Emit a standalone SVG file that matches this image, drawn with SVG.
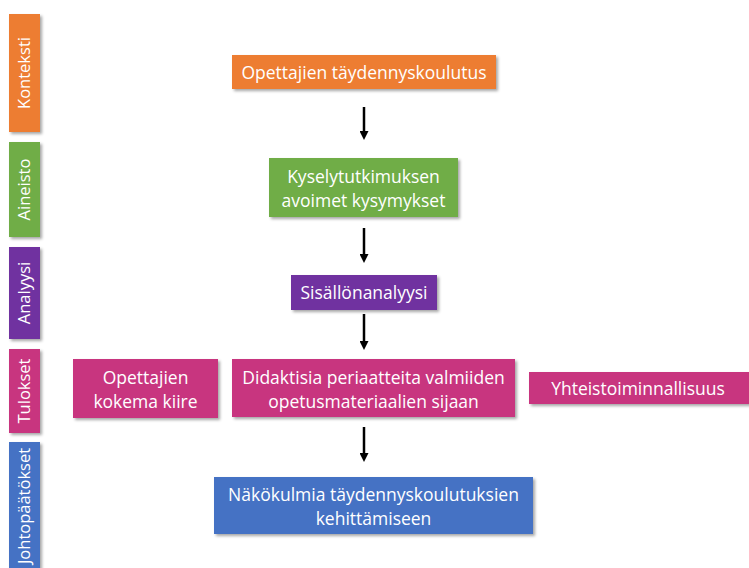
<svg xmlns="http://www.w3.org/2000/svg" width="749" height="568" viewBox="0 0 749 568">
<style>
  .t { font-family: "Open Sans", "Noto Sans", "Liberation Sans", sans-serif; fill: #ffffff; text-anchor: middle; }
  .m { font-size: 17.5px; }
  .s { font-size: 16.5px; }
  .orange { fill: #ED7D31; }
  .green { fill: #70AD47; }
  .purple { fill: #7030A0; }
  .pink { fill: #C8357F; }
  .blue { fill: #4472C4; }
  .conn { stroke: #000000; stroke-width: 2.5; fill: none; }
</style>
<defs>
  <filter id="sh" x="-10%" y="-20%" width="125%" height="150%">
    <feDropShadow dx="2" dy="2" stdDeviation="1.6" flood-color="#000000" flood-opacity="0.35"/>
  </filter>
  <marker id="ah" markerWidth="9" markerHeight="9" refX="4" refY="4.5" orient="auto" markerUnits="userSpaceOnUse" viewBox="0 0 9 9">
    <path d="M0,0 L9,4.5 L0,9 Z" fill="#000000"/>
  </marker>
</defs>
<rect width="749" height="568" fill="#ffffff"/>

<g id="side-kontekst">
  <rect class="orange" x="9" y="14" width="31" height="118" filter="url(#sh)"/>
  <text class="t s" transform="translate(30,73) rotate(-90)">Konteksti</text>
</g>
<g id="side-aineisto">
  <rect class="green" x="9" y="142" width="31" height="95" filter="url(#sh)"/>
  <text class="t s" transform="translate(30,189.5) rotate(-90)">Aineisto</text>
</g>
<g id="side-analyysi">
  <rect class="purple" x="9" y="247" width="31" height="92" filter="url(#sh)"/>
  <text class="t s" transform="translate(30,293) rotate(-90)">Analyysi</text>
</g>
<g id="side-tulokset">
  <rect class="pink" x="9" y="349" width="31" height="84" filter="url(#sh)"/>
  <text class="t s" transform="translate(30,391) rotate(-90)">Tulokset</text>
</g>
<g id="side-johtopaatokset">
  <rect class="blue" x="9" y="442" width="31" height="128" filter="url(#sh)"/>
  <text class="t s" transform="translate(30,506) rotate(-90)">Johtopäätökset</text>
</g>

<g id="n-opettajien">
  <rect class="orange" x="232" y="55" width="264" height="34" filter="url(#sh)"/>
  <text class="t m" x="364" y="78.5">Opettajien täydennyskoulutus</text>
</g>
<g id="n-kysely">
  <rect class="green" x="269" y="158" width="189" height="59" filter="url(#sh)"/>
  <text class="t m" x="363.5" y="183">Kyselytutkimuksen</text>
  <text class="t m" x="363.5" y="207">avoimet kysymykset</text>
</g>
<g id="n-sisallon">
  <rect class="purple" x="291" y="275" width="146" height="35" filter="url(#sh)"/>
  <text class="t m" x="364" y="298.5">Sisällönanalyysi</text>
</g>
<g id="n-kiire">
  <rect class="pink" x="73" y="359" width="145" height="59" filter="url(#sh)"/>
  <text class="t m" x="145.5" y="384">Opettajien</text>
  <text class="t m" x="145.5" y="408">kokema kiire</text>
</g>
<g id="n-didaktisia">
  <rect class="pink" x="232" y="359" width="283" height="58" filter="url(#sh)"/>
  <text class="t m" x="373.5" y="384">Didaktisia periaatteita valmiiden</text>
  <text class="t m" x="373.5" y="408">opetusmateriaalien sijaan</text>
</g>
<g id="n-yhteis">
  <rect class="pink" x="529" y="372" width="222" height="32" filter="url(#sh)"/>
  <text class="t m" x="638" y="394.5">Yhteistoiminnallisuus</text>
</g>
<g id="n-nakokulmia">
  <rect class="blue" x="214" y="477" width="319" height="57" filter="url(#sh)"/>
  <text class="t m" x="373.5" y="501">Näkökulmia täydennyskoulutuksien</text>
  <text class="t m" x="373.5" y="525">kehittämiseen</text>
</g>

<g id="connectors">
  <line class="conn" x1="364" y1="107" x2="364" y2="135" marker-end="url(#ah)"/>
  <line class="conn" x1="364" y1="228" x2="364" y2="258" marker-end="url(#ah)"/>
  <line class="conn" x1="364" y1="314" x2="364" y2="345" marker-end="url(#ah)"/>
  <line class="conn" x1="364" y1="427" x2="364" y2="457" marker-end="url(#ah)"/>
</g>
</svg>
